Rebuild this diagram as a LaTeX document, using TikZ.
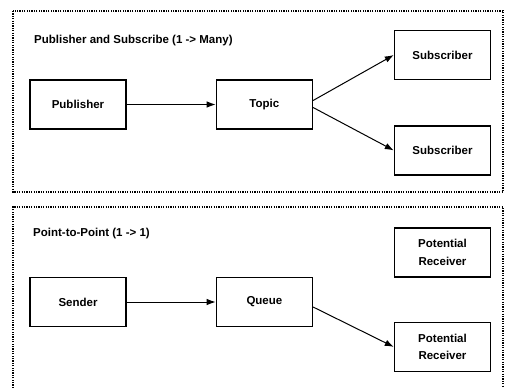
\documentclass[tikz,border=0pt]{standalone}
\usepackage{fontspec}
\setmainfont{Liberation Sans}
\usetikzlibrary{arrows.meta,positioning}

\begin{document}
\begin{tikzpicture}[
            x=1pt, y=1pt,
            font=\fontsize{11.5}{17.5}\selectfont\bfseries,
            box/.style={rectangle, draw=black, line width=1.4pt, fill=white,
                                        minimum width=96pt, minimum height=49pt,
                                        align=center, inner sep=2pt},
            panel/.style={draw=black, line width=1.3pt, dash pattern=on 1.2pt off 1.2pt},
            title/.style={anchor=west, inner sep=0pt},
            flow/.style={-{Latex[length=9pt,width=6.5pt]}, line width=1pt}
        ]
        \useasboundingbox (0,0) rectangle (506,-388);

        % Panels
        \draw[panel] (13,-11) rectangle (503,-192);
        \draw[panel] (13,-388) |- (503,-207) -- (503,-388);

        % Publish / subscribe
        \node[title] (pstitle) at (34,-41) {Publisher and Subscribe (1 -> Many)};
        \node[box] (publisher) at (78,-104.5) {Publisher};
        \node[box, right=89pt of publisher] (topic) {Topic};
        \node[box] (suba) at (442.5,-55) {Subscriber};
        \node[box, below=45pt of suba] (subb) {Subscriber};

        % Point to point
        \node[title] (pptitle) at (33,-234) {Point-to-Point (1 -> 1)};
        \node[box] (sender) at (78,-302) {Sender};
        \node[box, right=89pt of sender] (queue) {Queue};
        \node[box] (recva) at (442.5,-252.5) {Potential\\Receiver};
        \node[box, below=44pt of recva] (recvb) {Potential\\Receiver};

        % Connections
        \draw[flow] (publisher.east) -- (topic.west);
        \draw[flow] ([yshift=4pt]topic.east) -- (suba.west);
        \draw[flow] ([yshift=-3pt]topic.east) -- (subb.west);
        \draw[flow] (sender.east) -- (queue.west);
        \draw[flow] ([yshift=-5pt]queue.east) -- (recvb.west);

        \end{tikzpicture}
\end{document}
